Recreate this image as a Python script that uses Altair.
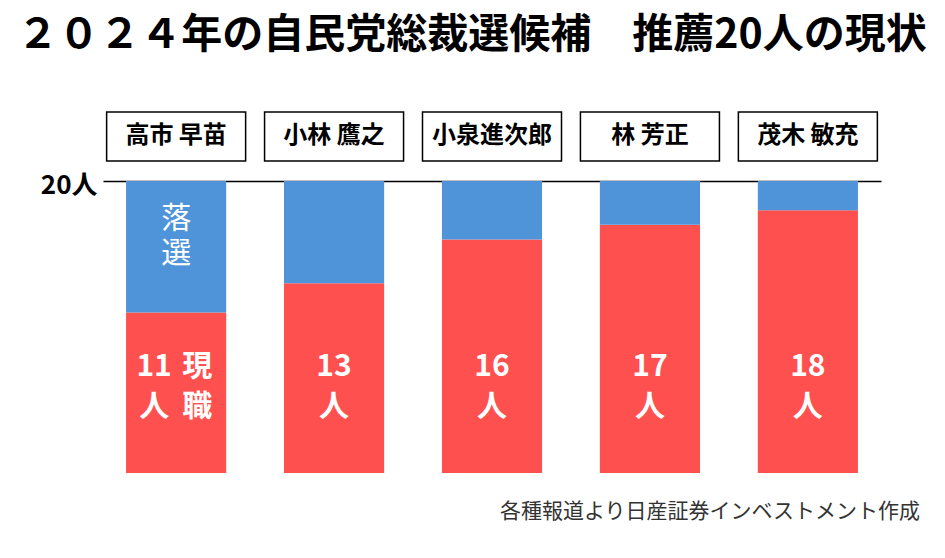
import altair as alt
import pandas as pd

candidates = ["高市 早苗", "小林 鷹之", "小泉進次郎", "林 芳正", "茂木 敏充"]
incumbent = [11, 13, 16, 17, 18]
defeated = [9, 7, 4, 3, 2]
status_labels = ["現職", "落選"]
total = 20
title_text = "２０２４年の自民党総裁選候補　推薦20人の現状"
source_text = "各種報道より日産証券インベストメント作成"
axis_label = "20人"

FONT = "Noto Sans CJK JP"
RED = "#FF5050"
BLUE = "#4F94D8"

rows = []
for c, a, b in zip(candidates, incumbent, defeated):
    rows.append({"候補": c, "状態": status_labels[0], "人数": a, "ord": 0})
    rows.append({"候補": c, "状態": status_labels[1], "人数": b, "ord": 1})
bars_df = pd.DataFrame(rows)

labels_df = pd.DataFrame({
    "候補": candidates,
    "label": [f"{n}\n人" for n in incumbent],
})
first_df = pd.DataFrame({"候補": [candidates[0]], "現職": ["現\n職"], "落選": ["落\n選"]})
names_df = pd.DataFrame({"候補": candidates})
source_df = pd.DataFrame({"t": [source_text]})

X = alt.X(
    "候補:N",
    sort=candidates,
    scale=alt.Scale(paddingInner=0.366, paddingOuter=0.146),
    axis=alt.Axis(orient="top", labels=False, ticks=False, title=None,
                  domainColor="black", domainWidth=1.5, grid=False),
)

bars = alt.Chart(bars_df).mark_bar().encode(
    x=X,
    y=alt.Y(
        "人数:Q",
        stack="zero",
        scale=alt.Scale(domain=[0, total], nice=False),
        axis=alt.Axis(values=[total], labelExpr=f"'{axis_label}'", domain=False,
                      ticks=False, grid=False, title=None, labelFontSize=26,
                      labelFontWeight="bold", labelFont=FONT, labelColor="black",
                      labelPadding=6, labelOffset=4),
    ),
    color=alt.Color("状態:N", scale=alt.Scale(domain=status_labels, range=[RED, BLUE]),
                    legend=None),
    order=alt.Order("ord:Q"),
)

boxes = alt.Chart(names_df).mark_bar(
    width=139, fill="white", stroke="black", strokeWidth=1.5
).encode(x=X, y=alt.value(-69), y2=alt.value(-20))

box_text = alt.Chart(names_df).mark_text(
    font=FONT, fontSize=24, fontWeight="bold", color="black", baseline="middle"
).encode(x=X, y=alt.value(-45), text="候補:N")

lab_first = alt.Chart(labels_df).transform_filter(
    alt.datum["候補"] == candidates[0]
).mark_text(
    font=FONT, fontSize=30, fontWeight="bold", color="white", baseline="middle",
    lineBreak="\n", lineHeight=40, dx=-22
).encode(x=X, y=alt.value(186), text="label:N")

lab_rest = alt.Chart(labels_df).transform_filter(
    alt.datum["候補"] != candidates[0]
).mark_text(
    font=FONT, fontSize=30, fontWeight="bold", color="white", baseline="middle",
    lineBreak="\n", lineHeight=40
).encode(x=X, y=alt.value(186), text="label:N")

lab_current = alt.Chart(first_df).mark_text(
    font=FONT, fontSize=30, fontWeight="bold", color="white", baseline="middle",
    lineBreak="\n", lineHeight=40, dx=21
).encode(x=X, y=alt.value(186), text="現職:N")

lab_lost = alt.Chart(first_df).mark_text(
    font=FONT, fontSize=30, fontWeight="normal", color="white", baseline="middle",
    lineBreak="\n", lineHeight=35
).encode(x=X, y=alt.value(38), text="落選:N")

source = alt.Chart(source_df).mark_text(
    font=FONT, fontSize=21, color="#333333", align="right", baseline="middle"
).encode(x=alt.value(817), y=alt.value(331), text="t:N")

chart = alt.layer(
    bars, boxes, box_text, lab_first, lab_rest, lab_current, lab_lost, source
).properties(
    width=778,
    height=292,
    autosize=alt.AutoSizeParams(type="none"),
    padding={"left": 95, "top": 173, "right": 56, "bottom": 77},
    title=alt.TitleParams(
        text=title_text, font=FONT, fontSize=41, fontWeight="bold",
        color="black", anchor="middle", offset=54, dx=-20,
    ),
).configure(background="white").configure_view(stroke=None)

chart.save("out.html", embed_options={"renderer": "svg", "actions": False})
